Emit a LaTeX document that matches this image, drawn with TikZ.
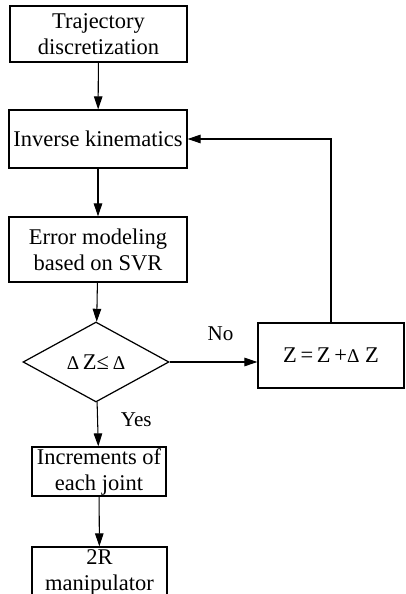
\documentclass[tikz,border=0pt]{standalone}
\usepackage{fontspec}
\setmainfont{Liberation Serif}
\usetikzlibrary{arrows.meta, positioning, shapes.geometric}
\newcommand{\dlt}{{\fontsize{11}{12}\selectfont Δ}}

\begin{document}
\begin{tikzpicture}[x=0.02cm, y=0.02cm,
                    blk/.style={draw, line width=0.7pt, align=center, inner sep=0pt, font=\fontsize{12.8}{14.8}\selectfont},
                    dec/.style={draw, diamond, line width=0.7pt, inner sep=0pt, minimum width=2.92cm, minimum height=1.6cm, font=\fontsize{12.8}{14.8}\selectfont},
                    flow/.style={-{Triangle[length=0.26cm, width=0.17cm]}, line width=0.6pt},
                    lbl/.style={font=\fontsize{12}{13}\selectfont}]
                \useasboundingbox (0,0) rectangle (405,594);
                \node[blk, minimum width=3.54cm, minimum height=1.12cm] (traj) at (98.5,560) {Trajectory\\discretization};
                \node[blk, minimum width=3.56cm, minimum height=1.16cm] (ik) at (98,455) {Inverse kinematics};
                \node[blk, minimum width=3.56cm, minimum height=1.30cm] (err) at (98,344.5) {Error modeling\\based on SVR};
                \node[dec] (cond) at (96,232) {\dlt\,Z≤\,\dlt};
                \node[blk, minimum width=2.92cm, minimum height=1.30cm] (upd) at (331,238.5) {Z\,=\,Z\,+\dlt\ Z};
                \node[blk, minimum width=2.68cm, minimum height=0.98cm] (inc) at (99,122.5) {Increments of\\each joint};
                \node[blk, minimum width=2.70cm, minimum height=1.00cm] (arm) at (99.5,22) {2R\\manipulator};
                \foreach \a/\b in {traj/ik, ik/err, err/cond, cond/inc, inc/arm}{
                        \draw[flow] (\a) -- (\b);
                    }
                \draw[flow] (cond.east) -- (cond.east -| upd.west)
                node[pos=0.58, above=0.3cm, lbl] {No};
                \draw[flow] (upd.north) |- (ik.east);
                \path (cond.south) -- (inc.north)
                node[pos=0.4, right=0.35cm, lbl] {Yes};
            \end{tikzpicture}
\end{document}
